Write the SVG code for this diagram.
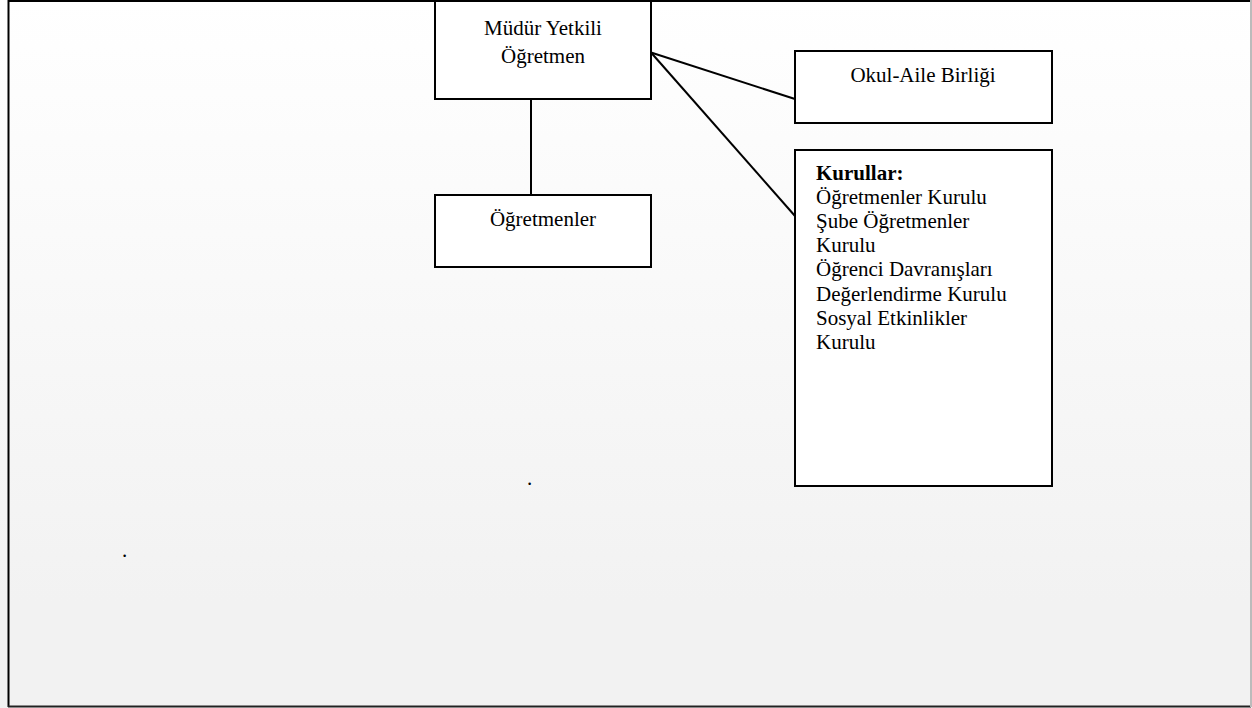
<svg xmlns="http://www.w3.org/2000/svg" width="1252" height="708" viewBox="0 0 1252 708">
  <defs>
    <linearGradient id="bg" x1="0" y1="0" x2="0" y2="1">
      <stop offset="0" stop-color="#ffffff"/>
      <stop offset="0.85" stop-color="#f2f2f2"/>
      <stop offset="1" stop-color="#f2f2f2"/>
    </linearGradient>
    <style>
      .box { fill: #ffffff; stroke: #000000; stroke-width: 2; }
      .t { font-family: "Liberation Serif", "Times New Roman", serif; font-size: 21px; fill: #000000; }
      .c { text-anchor: middle; }
      .conn { stroke: #000000; stroke-width: 2; fill: none; }
    </style>
  </defs>
  <rect x="0" y="0" width="1252" height="708" fill="url(#bg)"/>
  <g id="frame">
    <line x1="8" y1="1" x2="1251" y2="1" stroke="#000" stroke-width="2"/>
    <line x1="8.5" y1="0" x2="8.5" y2="707" stroke="#000" stroke-width="2"/>
    <line x1="8" y1="706.5" x2="1251" y2="706.5" stroke="#222" stroke-width="2"/>
    <line x1="1251" y1="0" x2="1251" y2="707" stroke="#bbbbbb" stroke-width="2"/>
  </g>
  <g id="connectors">
    <line class="conn" x1="531" y1="99" x2="531" y2="195"/>
    <line class="conn" x1="651" y1="52.5" x2="795" y2="99"/>
    <line class="conn" x1="651" y1="52.5" x2="795" y2="216"/>
  </g>
  <g id="mudur">
    <rect class="box" x="435" y="1" width="216" height="98"/>
    <text class="t c" x="543" y="34.5">Müdür Yetkili</text>
    <text class="t c" x="543" y="62.5">Öğretmen</text>
  </g>
  <g id="ogretmenler">
    <rect class="box" x="435" y="195" width="216" height="72"/>
    <text class="t c" x="543" y="225.5">Öğretmenler</text>
  </g>
  <g id="okul-aile">
    <rect class="box" x="795" y="51" width="257" height="72"/>
    <text class="t c" x="923" y="81.5">Okul-Aile Birliği</text>
  </g>
  <g id="kurullar">
    <rect class="box" x="795" y="150" width="257" height="336"/>
    <text class="t" x="816" y="179.5" font-weight="bold">Kurullar:</text>
    <text class="t" x="816" y="203.7">Öğretmenler Kurulu</text>
    <text class="t" x="816" y="227.9">Şube Öğretmenler</text>
    <text class="t" x="816" y="252.1">Kurulu</text>
    <text class="t" x="816" y="276.3">Öğrenci Davranışları</text>
    <text class="t" x="816" y="300.5">Değerlendirme Kurulu</text>
    <text class="t" x="816" y="324.7">Sosyal Etkinlikler</text>
    <text class="t" x="816" y="348.9">Kurulu</text>
  </g>
  <text class="t" x="527" y="485">.</text>
  <text class="t" x="122" y="557">.</text>
</svg>
